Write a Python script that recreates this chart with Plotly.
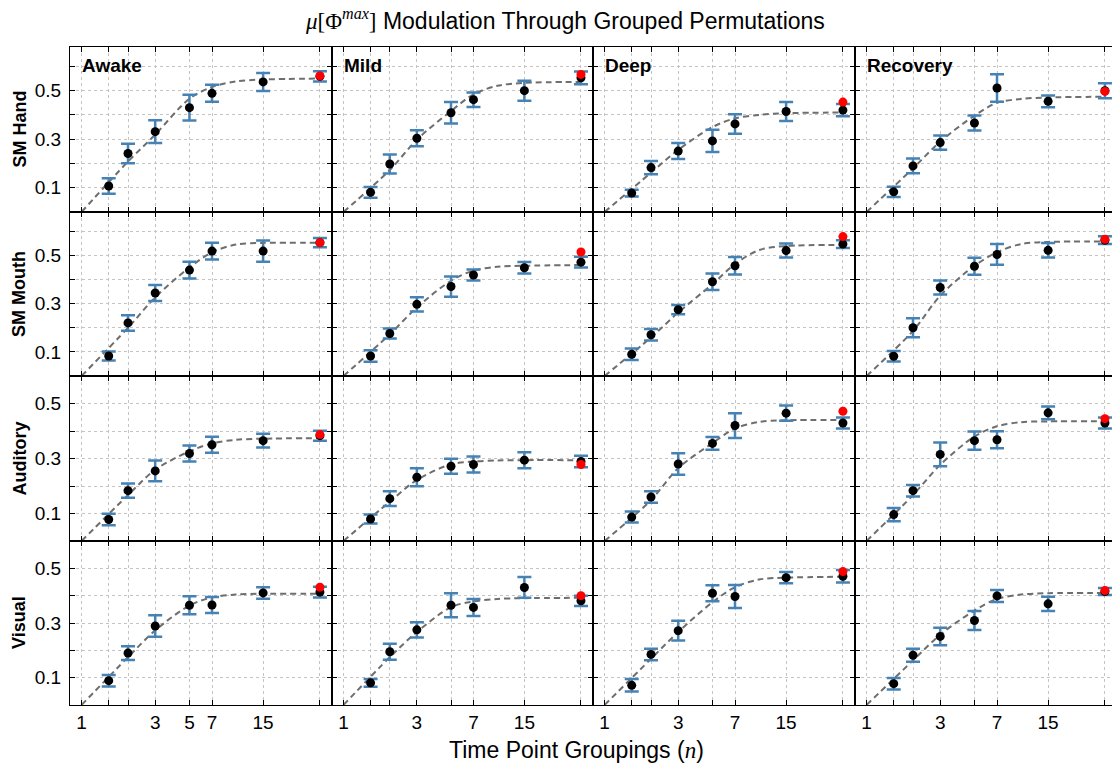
import math
import plotly.graph_objects as go

W, H = 1112, 767

STATES = ["Awake", "Mild", "Deep", "Recovery"]
REGIONS = ["SM Hand", "SM Mouth", "Auditory", "Visual"]

X_POINTS = [1.5, 2, 3, 5, 7, 15, 35]
X_RED = 35
CURVE_X = [1, 2, 3, 5, 7, 10, 15, 35]
X_TICKS = [1, 1.5, 2, 3, 5, 7, 15, 35]
X_LABELS_FIRST = ["1", "", "", "3", "5", "7", "15", ""]
X_LABELS_OTHER = ["1", "", "", "3", "", "7", "15", ""]
Y_TICKS = [0.1, 0.2, 0.3, 0.4, 0.5, 0.6]
Y_LABELS = ["0.1", "", "0.3", "", "0.5", ""]
Y_MAX = [0.68, 0.68, 0.6, 0.6]

# mean values per state (Awake, Mild, Deep, Recovery)
MEAN_SM_HAND = [
    [0.107, 0.241, 0.331, 0.430, 0.489, 0.536, 0.559],
    [0.081, 0.198, 0.304, 0.409, 0.463, 0.500, 0.553],
    [0.078, 0.183, 0.251, 0.293, 0.363, 0.414, 0.420],
    [0.083, 0.190, 0.286, 0.367, 0.511, 0.456, 0.500],
]
ERR_SM_HAND = [
    [0.032, 0.040, 0.047, 0.053, 0.035, 0.037, 0.021],
    [0.022, 0.039, 0.033, 0.044, 0.030, 0.041, 0.026],
    [0.014, 0.027, 0.033, 0.046, 0.040, 0.039, 0.025],
    [0.021, 0.030, 0.029, 0.031, 0.057, 0.024, 0.031],
]
RED_SM_HAND = [0.561, 0.567, 0.453, 0.497]
CURVE_SM_HAND = [
    [0, 0.208, 0.319, 0.467, 0.515, 0.538, 0.546, 0.550],
    [0, 0.173, 0.298, 0.416, 0.485, 0.520, 0.532, 0.536],
    [0, 0.162, 0.256, 0.350, 0.386, 0.400, 0.407, 0.410],
    [0, 0.180, 0.290, 0.397, 0.450, 0.466, 0.472, 0.475],
]

MEAN_SM_MOUTH = [
    [0.083, 0.220, 0.344, 0.439, 0.518, 0.518, 0.553],
    [0.083, 0.176, 0.297, 0.371, 0.419, 0.449, 0.472],
    [0.090, 0.171, 0.275, 0.391, 0.457, 0.520, 0.547],
    [0.082, 0.200, 0.367, 0.455, 0.504, 0.521, 0.563],
]
ERR_SM_MOUTH = [
    [0.019, 0.032, 0.033, 0.035, 0.035, 0.044, 0.019],
    [0.024, 0.021, 0.030, 0.042, 0.023, 0.024, 0.022],
    [0.024, 0.024, 0.019, 0.034, 0.036, 0.029, 0.016],
    [0.022, 0.039, 0.029, 0.035, 0.043, 0.030, 0.016],
]
RED_SM_MOUTH = [0.553, 0.514, 0.578, 0.567]
CURVE_SM_MOUTH = [
    [0, 0.200, 0.326, 0.450, 0.513, 0.545, 0.552, 0.552],
    [0, 0.173, 0.284, 0.395, 0.437, 0.453, 0.457, 0.460],
    [0, 0.160, 0.263, 0.381, 0.464, 0.522, 0.539, 0.543],
    [0, 0.187, 0.333, 0.457, 0.513, 0.547, 0.556, 0.557],
]

MEAN_AUDITORY = [
    [0.078, 0.183, 0.255, 0.318, 0.350, 0.365, 0.383],
    [0.080, 0.154, 0.232, 0.272, 0.278, 0.294, 0.289],
    [0.087, 0.160, 0.280, 0.355, 0.420, 0.465, 0.429],
    [0.096, 0.183, 0.315, 0.365, 0.368, 0.466, 0.429],
]
ERR_AUDITORY = [
    [0.021, 0.026, 0.038, 0.029, 0.029, 0.025, 0.018],
    [0.016, 0.027, 0.033, 0.027, 0.029, 0.029, 0.021],
    [0.020, 0.021, 0.039, 0.023, 0.045, 0.028, 0.020],
    [0.024, 0.021, 0.043, 0.033, 0.031, 0.023, 0.020],
]
RED_AUDITORY = [0.387, 0.278, 0.472, 0.445]
CURVE_AUDITORY = [
    [0, 0.167, 0.259, 0.326, 0.355, 0.368, 0.372, 0.374],
    [0, 0.143, 0.222, 0.279, 0.289, 0.293, 0.294, 0.294],
    [0, 0.149, 0.265, 0.356, 0.409, 0.433, 0.439, 0.440],
    [0, 0.167, 0.277, 0.380, 0.417, 0.432, 0.435, 0.435],
]

MEAN_VISUAL = [
    [0.089, 0.190, 0.289, 0.365, 0.366, 0.410, 0.413],
    [0.081, 0.195, 0.275, 0.365, 0.357, 0.430, 0.381],
    [0.072, 0.185, 0.272, 0.409, 0.397, 0.466, 0.471],
    [0.078, 0.182, 0.251, 0.309, 0.399, 0.370, 0.415],
]
ERR_VISUAL = [
    [0.021, 0.025, 0.039, 0.033, 0.029, 0.021, 0.020],
    [0.014, 0.029, 0.028, 0.044, 0.031, 0.038, 0.019],
    [0.023, 0.021, 0.036, 0.029, 0.042, 0.021, 0.023],
    [0.021, 0.024, 0.032, 0.035, 0.022, 0.026, 0.013],
]
RED_VISUAL = [0.431, 0.400, 0.488, 0.419]
CURVE_VISUAL = [
    [0, 0.175, 0.273, 0.364, 0.394, 0.404, 0.407, 0.407],
    [0, 0.175, 0.267, 0.358, 0.379, 0.388, 0.391, 0.392],
    [0, 0.169, 0.267, 0.376, 0.431, 0.459, 0.466, 0.469],
    [0, 0.163, 0.257, 0.346, 0.388, 0.404, 0.409, 0.410],
]

MEANS = [MEAN_SM_HAND, MEAN_SM_MOUTH, MEAN_AUDITORY, MEAN_VISUAL]
ERRS = [ERR_SM_HAND, ERR_SM_MOUTH, ERR_AUDITORY, ERR_VISUAL]
REDS = [RED_SM_HAND, RED_SM_MOUTH, RED_AUDITORY, RED_VISUAL]
CURVES = [CURVE_SM_HAND, CURVE_SM_MOUTH, CURVE_AUDITORY, CURVE_VISUAL]

# ---- layout geometry (integer pixel boundaries) ----
COL_EDGES = [70, 332, 593, 855, 1117]
ROW_EDGES = [47, 212, 376, 541, 705]
X_MIN, X_MAX = 0.842, 41.9

FONT = "Liberation Sans"
ERR_COLOR = "#4682B4"
GRID = "#c4c4c4"
LW = 1

fig = go.Figure()
layout = {}

for r in range(4):
    for c in range(4):
        idx = r * 4 + c + 1
        xn = "x" if idx == 1 else f"x{idx}"
        yn = "y" if idx == 1 else f"y{idx}"
        left_px = COL_EDGES[c]
        full_w = COL_EDGES[c + 1] - COL_EDGES[c]
        right_px = min(COL_EDGES[c + 1], W)
        px_per_ln = full_w / math.log(X_MAX / X_MIN)
        xmax = X_MIN * math.exp((right_px - left_px) / px_per_ln)

        fig.add_trace(go.Scatter(
            x=CURVE_X, y=CURVES[r][c], mode="lines",
            line=dict(color="#6e6e6e", width=2, dash="6px,4px", shape="spline", smoothing=0.9),
            xaxis=xn, yaxis=yn, showlegend=False, hoverinfo="skip"))
        fig.add_trace(go.Scatter(
            x=X_POINTS, y=MEANS[r][c], mode="markers",
            marker=dict(color="black", size=9, line=dict(width=0)),
            error_y=dict(type="data", array=ERRS[r][c], visible=True,
                         color=ERR_COLOR, thickness=2.5, width=7),
            xaxis=xn, yaxis=yn, showlegend=False))
        fig.add_trace(go.Scatter(
            x=[X_RED], y=[REDS[r][c]], mode="markers",
            marker=dict(color="#ff0000", size=9, line=dict(width=0)),
            xaxis=xn, yaxis=yn, showlegend=False))

        xkey = "xaxis" if idx == 1 else f"xaxis{idx}"
        ykey = "yaxis" if idx == 1 else f"yaxis{idx}"
        layout[xkey] = dict(
            domain=[left_px / W, right_px / W],
            type="log", range=[math.log10(X_MIN), math.log10(xmax)],
            tickmode="array", tickvals=X_TICKS,
            ticktext=X_LABELS_FIRST if c == 0 else X_LABELS_OTHER,
            showticklabels=(r == 3),
            ticks="inside", ticklen=5, tickwidth=1, tickcolor="black",
            showline=True, linecolor="black", linewidth=LW, mirror="ticks",
            showgrid=True, gridcolor=GRID, griddash="dot", gridwidth=1,
            zeroline=False, anchor=yn,
            tickfont=dict(family=FONT, size=19, color="black"),
        )
        layout[ykey] = dict(
            domain=[1 - ROW_EDGES[r + 1] / H, 1 - ROW_EDGES[r] / H],
            range=[0, Y_MAX[r]],
            tickmode="array", tickvals=Y_TICKS, ticktext=Y_LABELS,
            showticklabels=(c == 0),
            ticks="inside", ticklen=5, tickwidth=1, tickcolor="black",
            showline=True, linecolor="black", linewidth=LW,
            mirror=("ticks" if c < 3 else False),
            showgrid=True, gridcolor=GRID, griddash="dot", gridwidth=1,
            zeroline=False, anchor=xn, ticklabelstandoff=4,
            tickfont=dict(family=FONT, size=19, color="black"),
        )

annotations = []
annotations.append(dict(
    x=565 / W, y=1 - 19 / H, xref="paper", yref="paper", showarrow=False,
    xanchor="center", yanchor="middle",
    text="<span style=\"font-family:'Liberation Serif'\"><i>μ</i>[Φ<sup><i>max</i></sup>]</span> Modulation Through Grouped Permutations",
    font=dict(family=FONT, size=23, color="black")))
annotations.append(dict(
    x=576 / W, y=1 - 750 / H, xref="paper", yref="paper", showarrow=False,
    xanchor="center", yanchor="middle",
    text="Time Point Groupings (<span style=\"font-family:'Liberation Serif'\"><i>n</i></span>)",
    font=dict(family=FONT, size=23, color="black")))
for r, name in enumerate(REGIONS):
    annotations.append(dict(
        x=19 / W, y=1 - (ROW_EDGES[r] + ROW_EDGES[r + 1]) / 2 / H, xref="paper", yref="paper",
        showarrow=False, textangle=-90, xanchor="center", yanchor="middle",
        text=f"<b>{name}</b>", font=dict(family=FONT, size=18, color="black")))
for c, name in enumerate(STATES):
    annotations.append(dict(
        x=(COL_EDGES[c] + 10) / W, y=1 - 65 / H, xref="paper", yref="paper",
        showarrow=False, xanchor="left", yanchor="middle",
        text=f"<b>{name}</b>", font=dict(family=FONT, size=19, color="black")))

fig.update_layout(
    width=W, height=H,
    margin=dict(l=0, r=0, t=0, b=0),
    paper_bgcolor="white", plot_bgcolor="white",
    annotations=annotations,
    **layout,
)

fig.write_html("out.html")
